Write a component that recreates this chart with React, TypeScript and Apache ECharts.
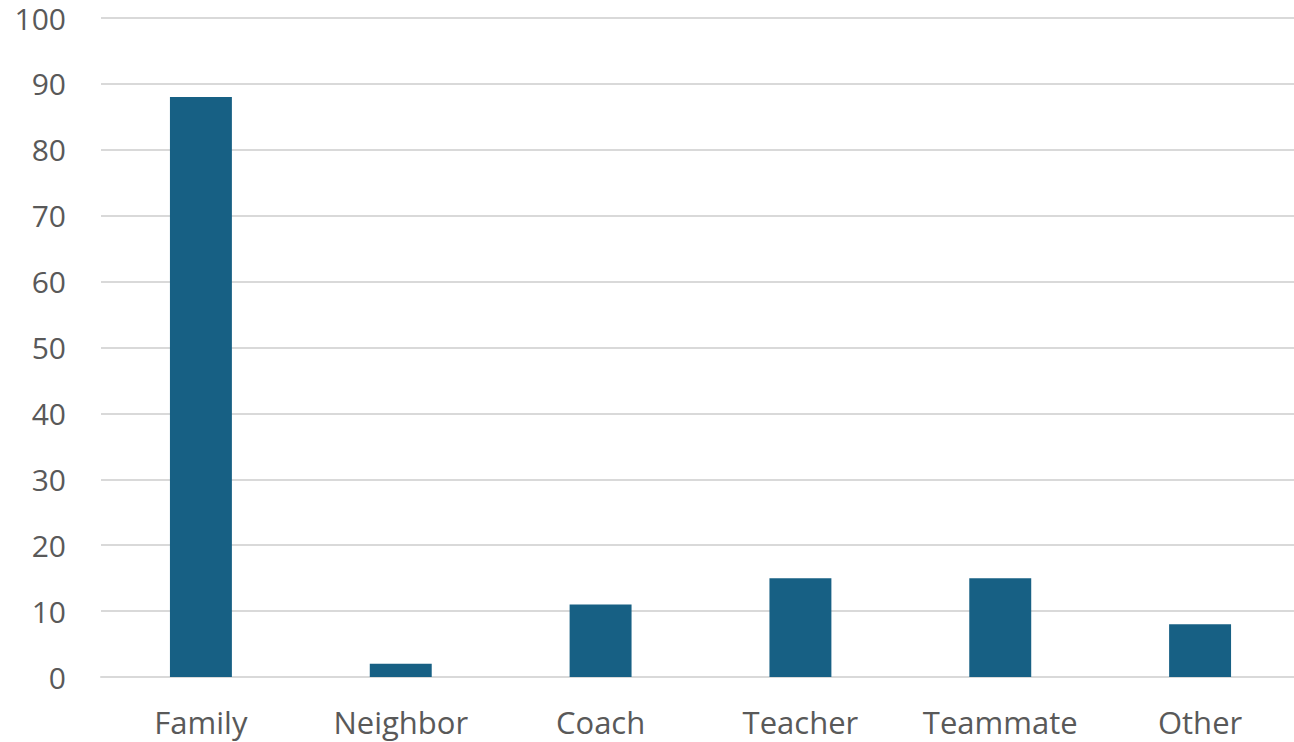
import React, { useEffect, useRef } from "react";
import * as echarts from "echarts";

const categories = ["Family", "Neighbor", "Coach", "Teacher", "Teammate", "Other"];
const values = [88, 2, 11, 15, 15, 8];
const yMin = 0;
const yMax = 100;
const yStep = 10;

export default function App() {
  const ref = useRef<HTMLDivElement>(null);

  useEffect(() => {
    if (!ref.current) return;
    const chart = echarts.init(ref.current, null, { renderer: "svg" });
    const font = "Open Sans, Noto Sans, sans-serif";
    chart.setOption({
      animation: false,
      grid: { left: 101, right: 0, top: 18, bottom: 65, containLabel: false },
      xAxis: {
        type: "category",
        data: categories,
        axisTick: { show: false },
        axisLine: { lineStyle: { color: "#d9d9d9", width: 2 } },
        axisLabel: { color: "#595959", fontSize: 31, fontFamily: font, margin: 29, interval: 0 },
      },
      yAxis: {
        type: "value",
        min: yMin,
        max: yMax,
        interval: yStep,
        axisLine: { show: false },
        axisTick: { show: false },
        splitLine: { lineStyle: { color: "#d9d9d9", width: 2 } },
        axisLabel: { color: "#595959", fontSize: 30, lineHeight: 26, fontFamily: font, margin: 35 },
      },
      series: [
        {
          type: "bar",
          data: values,
          barWidth: "31%",
          itemStyle: { color: "#176084" },
        },
      ],
    });
    return () => chart.dispose();
  }, []);

  return (
    <div
      style={{ position: "fixed", left: 0, top: 0, width: 1294, height: 742, overflow: "hidden", background: "#fff" }}
    >
      <div ref={ref} style={{ width: 1300, height: 742 }} />
    </div>
  );
}
